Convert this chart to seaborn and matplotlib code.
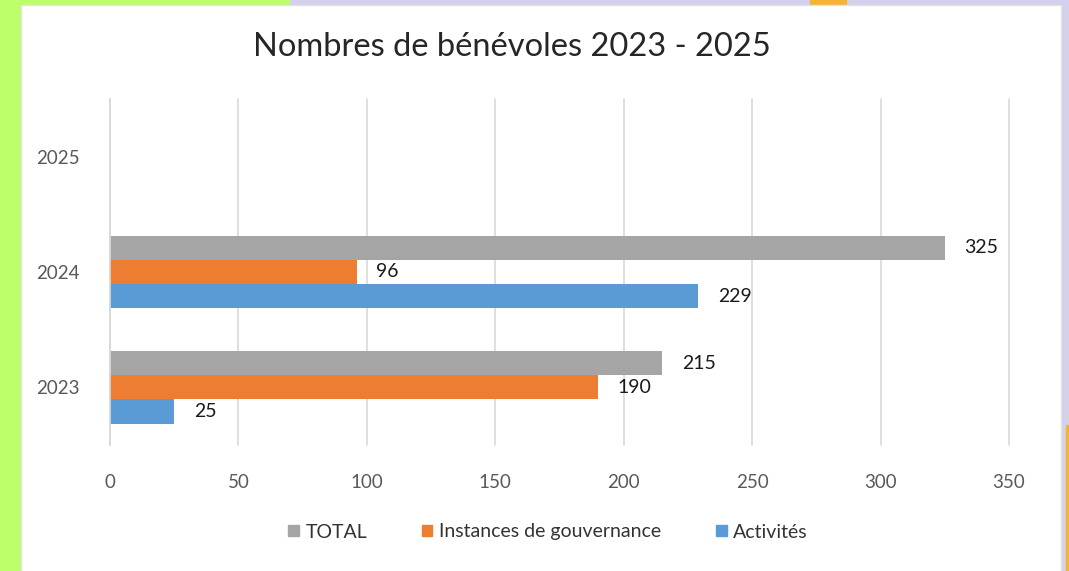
import matplotlib.pyplot as plt
import matplotlib.patches as mpatches
import seaborn as sns
import pandas as pd

# données
annees = ["2025", "2024", "2023"]
series = ["TOTAL", "Instances de gouvernance", "Activités"]
total = {"2024": 325, "2023": 215}
instances = {"2024": 96, "2023": 190}
activites = {"2024": 229, "2023": 25}
couleurs = ["#A5A5A5", "#ED7D31", "#5B9BD5"]
xticks = [0, 50, 100, 150, 200, 250, 300, 350]

rows = []
for nom, vals in zip(series, [total, instances, activites]):
    for an, v in vals.items():
        rows.append({"annee": an, "serie": nom, "valeur": v})
df = pd.DataFrame(rows)

sns.set_theme(style="white")
plt.rcParams['font.family'] = ['Lato', 'DejaVu Sans']

fig = plt.figure(figsize=(10.69, 5.71), dpi=100)
fig.patch.set_facecolor("white")

# bordures colorées autour du panneau
fig.add_artist(mpatches.Rectangle((0, 0), 20 / 1069, 1, transform=fig.transFigure,
                                  color="#BCFF6A", zorder=0))
fig.add_artist(mpatches.Rectangle((0, 1 - 4 / 571), 290 / 1069, 4 / 571,
                                  transform=fig.transFigure, color="#BCFF6A", zorder=0))
fig.add_artist(mpatches.Rectangle((290 / 1069, 1 - 4 / 571), 1, 4 / 571,
                                  transform=fig.transFigure, color="#D4D1EC", zorder=0))
fig.add_artist(mpatches.Rectangle((810 / 1069, 1 - 4 / 571), 36 / 1069, 4 / 571,
                                  transform=fig.transFigure, color="#F5B335", zorder=1))
fig.add_artist(mpatches.Rectangle((1062 / 1069, 0), 7 / 1069, 1, transform=fig.transFigure,
                                  color="#D4D1EC", zorder=0))
fig.add_artist(mpatches.Rectangle((1066 / 1069, 0), 3 / 1069, 146 / 571, transform=fig.transFigure,
                                  color="#F5B335", zorder=1))
fig.add_artist(mpatches.Rectangle((21 / 1069, -0.01), 1040 / 1069, 1 - 5 / 571 + 0.01,
                                  transform=fig.transFigure, fill=False,
                                  edgecolor="#E3E3E3", lw=1, zorder=1))

ax = fig.add_axes([110 / 1069, 1 - 445 / 571, 899 / 1069, 346 / 571])
sns.barplot(data=df, y="annee", x="valeur", hue="serie", order=annees,
            hue_order=series, palette=couleurs, width=0.63, orient="h",
            saturation=1, linewidth=0, ax=ax, legend=False)

for c in ax.containers:
    ax.bar_label(c, padding=14, fontsize=14, color="#1a1a1a")

ax.set_xlim(0, 350)
ax.set_xticks(xticks)
ax.grid(axis="x", color="#D9D9D9", lw=1.2)
for gl in ax.get_xgridlines():
    gl.set_clip_on(False)
ax.set_axisbelow(True)
for s in ["top", "right", "bottom"]:
    ax.spines[s].set_visible(False)
ax.spines["left"].set_color("#D9D9D9")
ax.tick_params(axis="x", length=0, pad=21, labelsize=13.5, labelcolor="#595959")
ax.tick_params(axis="y", length=0, pad=22, labelsize=13.5, labelcolor="#595959")
ax.set_xlabel("")
ax.set_ylabel("")

fig.text(512 / 1069, 1 - 47 / 571, "Nombres de bénévoles 2023 - 2025",
         ha="center", va="center", fontsize=23.5, color="#262626")

handles = [mpatches.Patch(color=c, label=s) for c, s in zip(couleurs, series)]
fig.legend(handles=handles, loc="center", bbox_to_anchor=(548 / 1069, 1 - 532 / 571),
           ncol=3, frameon=False, fontsize=14, handlelength=0.55, handleheight=0.55,
           handletextpad=0.35, columnspacing=2.8, labelcolor="#333333")

plt.savefig("out.png", dpi=100)
plt.close()
